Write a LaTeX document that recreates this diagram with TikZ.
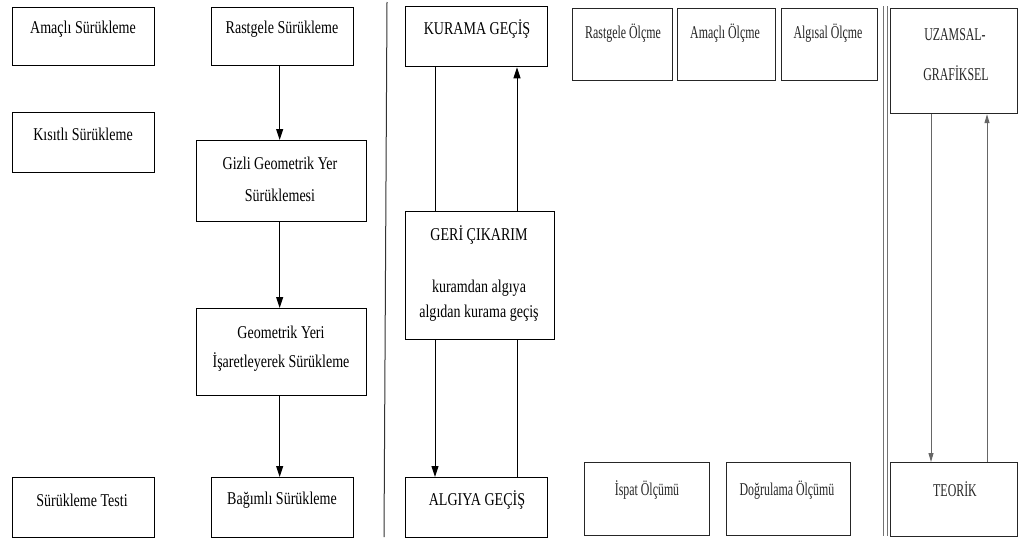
\documentclass[tikz,border=0pt]{standalone}
\usepackage{fontspec}
\usepackage{graphicx}
\setmainfont{Liberation Serif}
\usetikzlibrary{arrows.meta}
\newcommand{\sq}[1]{\scalebox{0.78}[1]{#1}}
\newcommand{\sr}[1]{\scalebox{0.66}[1]{#1}}
\begin{document}
\begin{tikzpicture}[x=1pt,y=-1pt,
 box/.style={draw=black, line width=1.3pt, fill=white, anchor=north west, inner sep=0pt},
 rbox/.style={draw=black!85, line width=1.2pt, fill=white, anchor=north west, inner sep=0pt},
 tl/.style={font=\fontsize{18}{20}\selectfont, inner sep=0pt},
 tr/.style={font=\fontsize{18}{20}\selectfont, inner sep=0pt, text=black!85},
 arr/.style={line width=1pt, -{Triangle[length=11pt,width=7pt]}},
 ln/.style={line width=1pt},
 rarr/.style={line width=1pt, draw=black!60, -{Triangle[length=9pt,width=5pt]}},
 sep/.style={line width=1pt, draw=black!80},
]
\useasboundingbox (0,0) rectangle (1019,541);
% separators
\coordinate (s1a) at (387,2);
\coordinate (s1b) at (384,537);
\draw[sep] (s1a) -- (s1b);
\coordinate (s2a) at (883,6);
\coordinate (s2b) at (883,536);
\coordinate (s3a) at (887,6);
\coordinate (s3b) at (887,536);
\draw[sep, draw=black!55] (s2a) -- (s2b);
\draw[sep, draw=black!55] (s3a) -- (s3b);
% left boxes
\node[box, minimum width=142pt, minimum height=58pt] (amacli) at (12,7) {};
\node[box, minimum width=142pt, minimum height=58pt] (rastgele) at (211,7) {};
\node[box, minimum width=142pt, minimum height=60pt] (kisitli) at (12,112) {};
\node[box, minimum width=170pt, minimum height=81pt] (gizli) at (196,140) {};
\node[box, minimum width=170pt, minimum height=87pt] (geoyeri) at (196,308) {};
\node[box, minimum width=142pt, minimum height=60pt] (testi) at (12,477) {};
\node[box, minimum width=142pt, minimum height=60pt] (bagimli) at (211,477) {};
% middle boxes
\node[box, minimum width=142pt, minimum height=60pt] (kurama) at (405,6) {};
\node[box, minimum width=149pt, minimum height=128pt] (geri) at (405,211) {};
\node[box, minimum width=142pt, minimum height=60pt] (algiya) at (405,477) {};
% right boxes
\node[rbox, minimum width=100pt, minimum height=72pt] (rolc) at (572,8) {};
\node[rbox, minimum width=98pt, minimum height=72pt] (aolc) at (677,8) {};
\node[rbox, minimum width=96pt, minimum height=72pt] (alolc) at (781,8) {};
\node[rbox, minimum width=127pt, minimum height=105pt] (uzamsal) at (890,8) {};
\node[rbox, minimum width=125pt, minimum height=73pt] (ispat) at (584,462) {};
\node[rbox, minimum width=124pt, minimum height=73pt] (dogrulama) at (726,462) {};
\node[rbox, minimum width=127pt, minimum height=74pt] (teorik) at (890,462) {};
% left texts
\node[tl] (t-amacli) at (83,29) {\sq{Amaçlı Sürükleme}};
\node[tl] (t-rastgele) at (282,29) {\sq{Rastgele Sürükleme}};
\node[tl] (t-kisitli) at (83,134) {\sq{Kısıtlı Sürükleme}};
\node[tl] (t-gizli1) at (280,163) {\sq{Gizli Geometrik Yer}};
\node[tl] (t-gizli2) at (280,195) {\sq{Sürüklemesi}};
\node[tl] (t-geo1) at (281,332) {\sq{Geometrik Yeri}};
\node[tl] (t-geo2) at (281,362) {\sq{İşaretleyerek Sürükleme}};
\node[tl] (t-testi) at (82,500) {\sq{Sürükleme Testi}};
\node[tl] (t-bagimli) at (282,500) {\sq{Bağımlı Sürükleme}};
% middle texts
\node[tl] (t-kurama) at (477,29) {\sq{KURAMA GEÇİŞ}};
\node[tl] (t-geri1) at (479,235) {\sq{GERİ ÇIKARIM}};
\node[tl] (t-geri2) at (479,288) {\sq{kuramdan algıya}};
\node[tl] (t-geri3) at (479,313) {\sq{algıdan kurama geçiş}};
\node[tl] (t-algiya) at (477,500) {\sq{ALGIYA GEÇİŞ}};
% right texts
\node[tr] (t-rolc) at (623,33) {\sr{Rastgele Ölçme}};
\node[tr] (t-aolc) at (725,33) {\sr{Amaçlı Ölçme}};
\node[tr] (t-alolc) at (828,33) {\sr{Algısal Ölçme}};
\node[tr] (t-uz1) at (955,35) {\sr{UZAMSAL-}};
\node[tr] (t-uz2) at (956,73) {\sr{GRAFİKSEL}};
\node[tr] (t-ispat) at (647,490) {\sr{İspat Ölçümü}};
\node[tr] (t-dogru) at (787,490) {\sr{Doğrulama Ölçümü}};
\node[tr] (t-teorik) at (955,489) {\sr{TEORİK}};
% left arrows
\draw[arr] ([xshift=-3pt]rastgele.south) -- ([xshift=-3pt]rastgele.south |- gizli.north);
\draw[arr] ([xshift=-2pt]gizli.south) -- ([xshift=-2pt]gizli.south |- geoyeri.north);
\draw[arr] ([xshift=-2pt]geoyeri.south) -- ([xshift=-2pt]geoyeri.south |- bagimli.north);
% middle connectors
\draw[ln] ([xshift=30pt]kurama.south west) -- ([xshift=30pt]kurama.south west |- geri.north);
\draw[arr] ([xshift=30pt]geri.south west) -- ([xshift=30pt]geri.south west |- algiya.north);
\draw[ln] ([xshift=112pt]algiya.north west) -- ([xshift=112pt]algiya.north west |- geri.south);
\draw[arr] ([xshift=112pt]geri.north west) -- ([xshift=112pt]geri.north west |- kurama.south);
% right connectors
\draw[rarr] ([xshift=41pt]uzamsal.south west) -- ([xshift=41pt]uzamsal.south west |- teorik.north);
\draw[rarr] ([xshift=97pt]teorik.north west) -- ([xshift=97pt]teorik.north west |- uzamsal.south);
\end{tikzpicture}
\end{document}
